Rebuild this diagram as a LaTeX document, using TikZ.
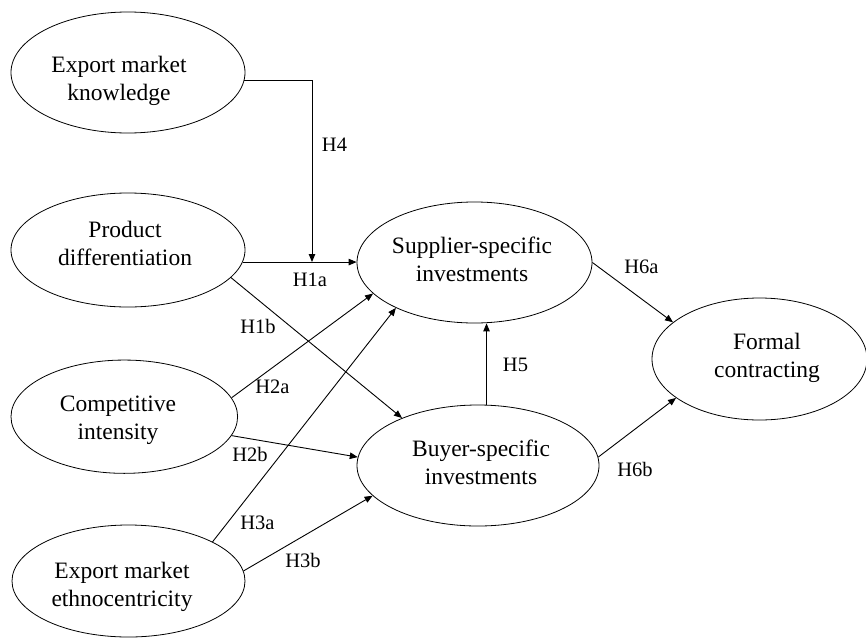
\documentclass[tikz,border=0pt]{standalone}
\usepackage{fontspec}
\setmainfont{Liberation Serif}
\usetikzlibrary{shapes.geometric,arrows.meta}
\newcommand{\clines}[2]{\rule{0pt}{17pt}#1\\#2\rule[-6pt]{0pt}{6pt}}
\tikzset{
  construct/.style={ellipse, draw, line width=0.8pt, inner sep=0pt},
  ctext/.style={align=center, inner sep=0pt, font=\fontsize{23.5}{28}\selectfont},
  arr/.style={line width=0.9pt, -{Triangle[length=8pt,width=6.5pt]}},
  hyp/.style={font=\fontsize{20.5}{24}\selectfont, inner sep=0pt}
}
\begin{document}
\begin{tikzpicture}[x=1pt,y=-1pt]
\useasboundingbox (0,0) rectangle (866,637);
% constructs (ellipses)
\node[construct, minimum width=234pt, minimum height=121pt] (emk) at (128,72.5) {};
\node[construct, minimum width=234pt, minimum height=114pt] (pd) at (128,250) {};
\node[construct, minimum width=226.6pt, minimum height=113.3pt] (ci) at (124.3,416.7) {};
\node[construct, minimum width=233pt, minimum height=112pt] (eme) at (128.5,581) {};
\node[construct, minimum width=235pt, minimum height=121pt] (ssi) at (474.5,262.5) {};
\node[construct, minimum width=242pt, minimum height=121pt] (bsi) at (478,465.5) {};
\node[construct, minimum width=215pt, minimum height=122pt] (fc) at (759.5,359) {};
% construct texts
\node[ctext] (emkt) at (119,80.5) {\clines{Export market}{knowledge}};
\node[ctext] (pdt) at (125,246) {\clines{Product}{differentiation}};
\node[ctext] (cit) at (118,420.3) {\clines{Competitive}{intensity}};
\node[ctext] (emet) at (122,586.5) {\clines{Export market}{ethnocentricity}};
\node[ctext] (ssit) at (472,261.5) {\clines{Supplier-specific}{investments}};
\node[ctext] (bsit) at (481,465.3) {\clines{Buyer-specific}{investments}};
\node[ctext] (fct) at (767,358.2) {\clines{Formal}{contracting}};
\coordinate (h4end) at (312,262);
% connectors
\draw[arr] (pd.-6) -- (pd.-6 -| ssi.west);
\draw[arr] (emk.-4) -| (h4end);
\draw[arr] (pd.-15) -- (bsi.148);
\draw[arr] (ci.10) -- (ssi.197);
\draw[arr] (ci.-10) -- (bsi.176);
\draw[arr] (eme.25) -- (ssi.210);
\draw[arr] (eme.5) -- (bsi.196);
\draw[arr] (bsi.82) -- (bsi.82 |- ssi.south);
\draw[arr] (ssi.east) -- (fc.157);
\draw[arr] (bsi.4) -- (fc.205);
% labels
\node[hyp] (l4) at (334.5,145) {H4};
\node[hyp] (l1a) at (310,280) {H1a};
\node[hyp] (l1b) at (258,326) {H1b};
\node[hyp] (l2a) at (272.5,387) {H2a};
\node[hyp] (l2b) at (250,454.5) {H2b};
\node[hyp] (l3a) at (257.5,522.5) {H3a};
\node[hyp] (l3b) at (303,560.5) {H3b};
\node[hyp] (l5) at (515.5,365) {H5};
\node[hyp] (l6a) at (641.5,266.5) {H6a};
\node[hyp] (l6b) at (635,469) {H6b};
\end{tikzpicture}
\end{document}
